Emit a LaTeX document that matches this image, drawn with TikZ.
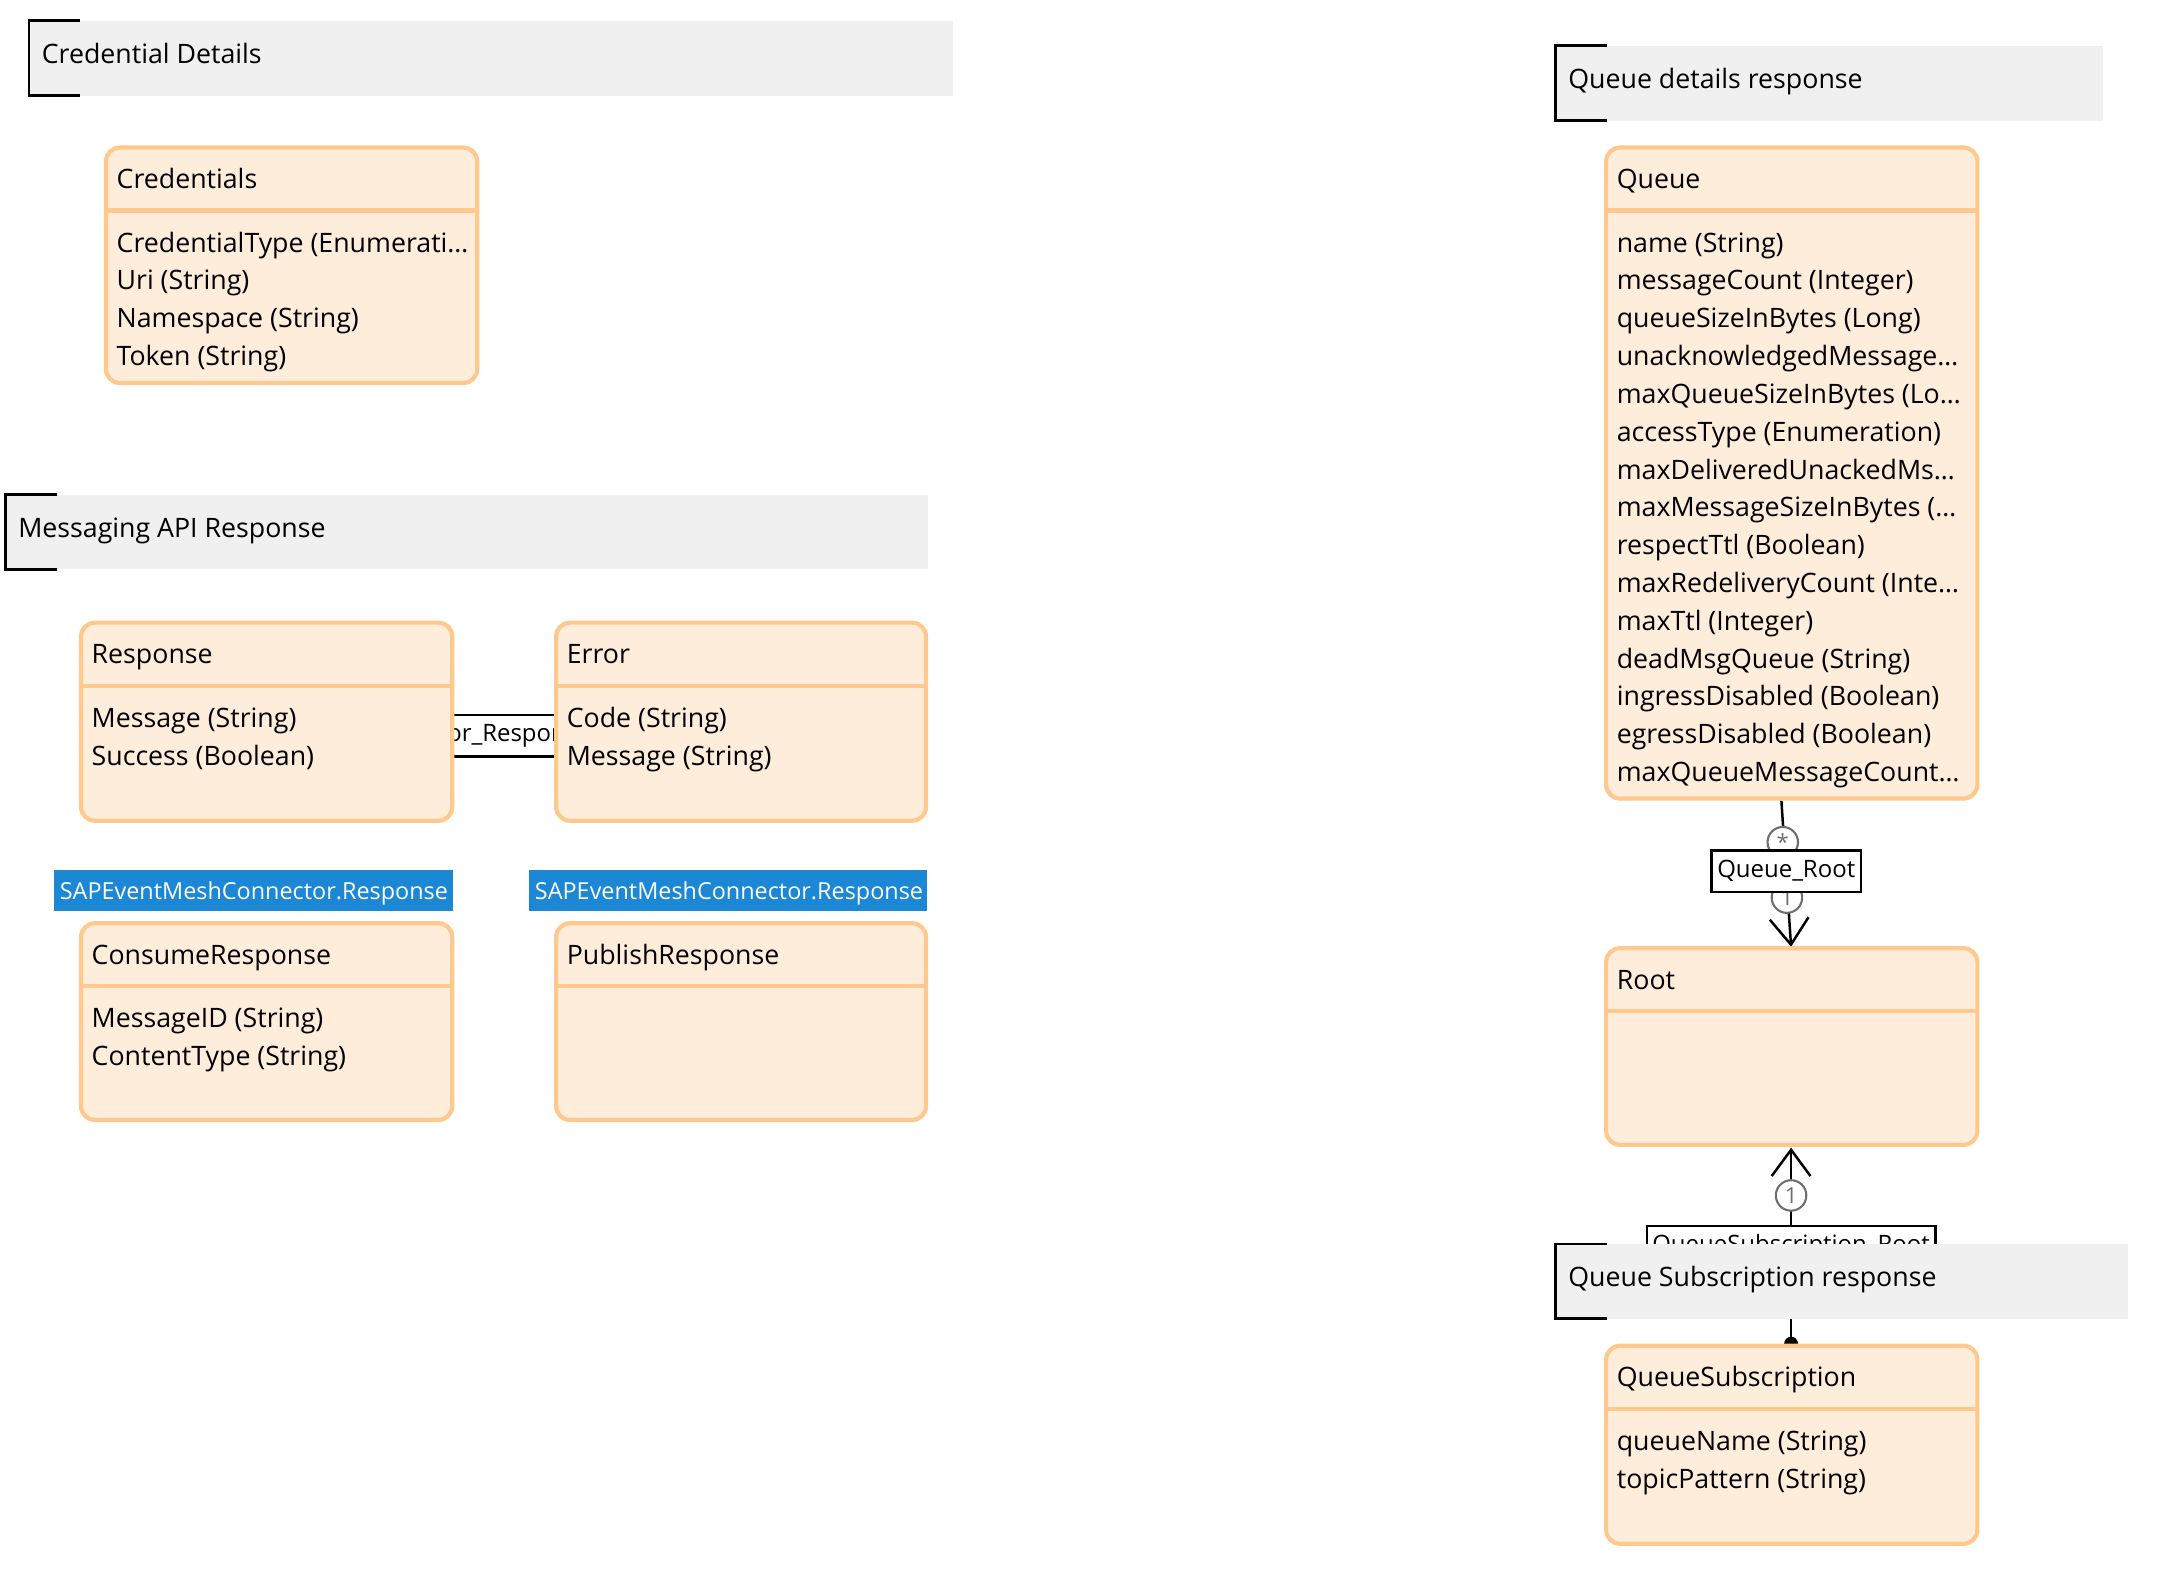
\documentclass[tikz,border=0pt]{standalone}
\usepackage{fontspec}
\setmainfont{Open Sans}
\usetikzlibrary{arrows.meta}

\definecolor{boxfill}{RGB}{255,237,219}
\definecolor{boxedge}{RGB}{255,200,140}
\definecolor{tagblue}{RGB}{27,135,213}
\definecolor{headgray}{RGB}{240,240,240}
\definecolor{markgray}{RGB}{110,110,110}

\tikzset{
  classbody/.style={draw=boxedge, fill=boxfill, line width=3pt, rounded corners=10pt,
    outer sep=0pt, inner sep=0pt, anchor=north west},
  classline/.style={draw=boxedge, line width=3pt},
  classtext/.style={anchor=base west, inner sep=0pt, font=\fontsize{19.3}{23}\selectfont},
  tagtext/.style={anchor=base west, inner sep=0pt, font=\fontsize{16.9}{21}\selectfont},
  headbox/.style={fill=headgray, draw=none, outer sep=0pt, inner sep=0pt, anchor=north west},
  headbracket/.style={draw=black, line width=2pt},
  tagbox/.style={fill=tagblue, inner sep=0pt, outer sep=0pt, anchor=north west},
  assoc/.style={draw=black, line width=1.8pt},
  assoclabel/.style={draw=black, fill=white, line width=1.8pt, inner xsep=4pt, inner ysep=0pt,
    minimum height=30pt, font=\fontsize{17.3}{21}\selectfont},
  multmark/.style={circle, draw=markgray, fill=white, line width=1.5pt, text=markgray,
    minimum size=22pt, inner sep=0pt, font=\fontsize{16}{16}\selectfont},
  openhead/.style={-{Straight Barb[length=19pt, width=28pt, line width=1.8pt]}},
}

% class box: name, x, y, width, height, title
\newcommand\umlclass[6]{%
  \node[classbody, minimum width=#4pt, minimum height=#5pt] (#1) at (#2,#3) {};
  \draw[classline] ([yshift=-45.5pt]#1.north west) -- ([yshift=-45.5pt]#1.north east);
  \node[classtext] (#1-title) at ([xshift=7.5pt,yshift=-29.5pt]#1.north west) {#6};
}
% attribute lines of a class box
\newcommand\umlattrs[2]{%
  \foreach \attr [count=\k] in {#2} {
    \pgfmathsetmacro\attrdrop{75.5+27.3*(\k-1)}
    \node[classtext] (#1-a\k) at ([xshift=7.5pt,yshift=-\attrdrop pt]#1.north west) {\attr};
  }
}
% heading band with bracket: name, x, y, width, height, text
\newcommand\umlheading[6]{%
  \node[headbox, minimum width=#4pt, minimum height=#5pt] (#1) at (#2,#3) {};
  \draw[headbracket] ([xshift=37pt]#1.north west) -- (#1.north west) -- (#1.south west) -- ([xshift=37pt]#1.south west);
  \node[classtext] (#1-text) at ([xshift=9pt,yshift=-31pt]#1.north west) {#6};
}

\begin{document}
\begin{tikzpicture}[x=1pt,y=-1pt]
\useasboundingbox[fill=white] (0,0) rectangle (1568,1147);

% ---- associations (drawn below the class boxes) ----
\coordinate (respmid) at (328,531);
\coordinate (errmid) at (400,531);
\draw[assoc] (respmid) -- (errmid);
\node[assoclabel] (errresp) at (363,531) {Error\_Response};

\coordinate (queuefoot) at (1286,578);
\coordinate (roottop) at (1293,683.5);
\draw[assoc, openhead] (queuefoot) -- (roottop);
\node[multmark] (qstar) at (1287,608) {*};
\node[multmark] (qone) at (1290,648) {1};
\node[assoclabel] (queueroot) at (1289.5,629) {Queue\_Root};

\coordinate (rootfoot) at (1293,828.5);
\coordinate (qsubtop) at (1293,970);
\draw[assoc, openhead] (qsubtop) -- (rootfoot);
\fill[black] (qsubtop) circle (5pt);
\node[multmark] (sone) at (1293,863) {1};
\node[assoclabel, anchor=north] (qsubroot) at (1293,884) {QueueSubscription\_Root};

% ---- class boxes ----
\umlclass{cred}{76.5}{106.5}{268}{170}{Credentials}
\umlattrs{cred}{CredentialType (Enumerati…, Uri (String), Namespace (String), Token (String)}

\umlclass{resp}{58.5}{449.5}{268}{143}{Response}
\umlattrs{resp}{Message (String), Success (Boolean)}

\umlclass{err}{401.5}{449.5}{267}{143}{Error}
\umlattrs{err}{Code (String), Message (String)}

\node[tagbox, minimum width=288pt, minimum height=30pt] (constag) at (39,628) {};
\node[tagtext, text=white] (constag-text) at ([xshift=4pt,yshift=-21.5pt]constag.north west) {SAPEventMeshConnector.Response};
\node[tagbox, minimum width=287pt, minimum height=30pt] (pubtag) at (382,628) {};
\node[tagtext, text=white] (pubtag-text) at ([xshift=4pt,yshift=-21.5pt]pubtag.north west) {SAPEventMeshConnector.Response};

\umlclass{cons}{58.5}{666.5}{268}{142}{ConsumeResponse}
\umlattrs{cons}{MessageID (String), ContentType (String)}

\umlclass{pub}{401.5}{666.5}{267}{142}{PublishResponse}

\umlclass{queue}{1159.5}{106.5}{268}{470}{Queue}
\umlattrs{queue}{name (String), messageCount (Integer), queueSizeInBytes (Long),
  unacknowledgedMessage…, maxQueueSizeInBytes (Lo…, accessType (Enumeration),
  maxDeliveredUnackedMs…, maxMessageSizeInBytes (…, respectTtl (Boolean),
  maxRedeliveryCount (Inte…, maxTtl (Integer), deadMsgQueue (String),
  ingressDisabled (Boolean), egressDisabled (Boolean), maxQueueMessageCount…}

\umlclass{root}{1159.5}{684.5}{268}{142}{Root}

\umlclass{qsub}{1159.5}{971.5}{268}{143}{QueueSubscription}
\umlattrs{qsub}{queueName (String), topicPattern (String)}

% ---- module headings ----
\umlheading{hcred}{21}{15}{667}{54}{Credential Details}
\umlheading{hapi}{4}{357}{666}{54}{Messaging API Response}
\umlheading{hqueue}{1123}{33}{395}{54}{Queue details response}
\umlheading{hqsub}{1123}{898}{413}{54}{Queue Subscription response}
\end{tikzpicture}
\end{document}
